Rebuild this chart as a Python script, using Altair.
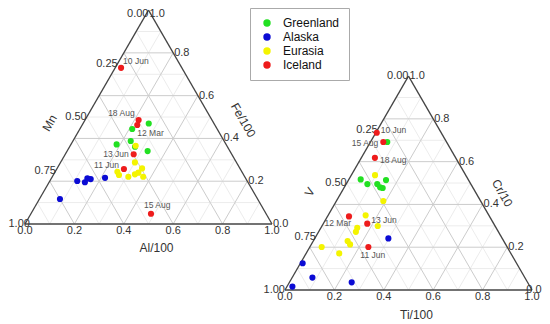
import altair as alt
import numpy as np
import pandas as pd

# ---------------- data ----------------
groups = ["Greenland", "Alaska", "Eurasia", "Iceland"]
colors = ["#22e022", "#0b0bd4", "#f4f400", "#ee1c1c"]

# Left ternary: Al/100 (bottom), Fe/100 (apex), Mn = remainder
left_group = (["Greenland"] * 6 + ["Alaska"] * 6 + ["Eurasia"] * 9 + ["Iceland"] * 6)
left_al = [0.266, 0.212, 0.234, 0.185, 0.326, 0.265,
           0.083, 0.111, 0.145, 0.146, 0.161, 0.216,
           0.265, 0.301, 0.344, 0.252, 0.266, 0.308, 0.329, 0.368, 0.339,
           0.024, 0.217, 0.223, 0.277, 0.272, 0.486]
left_fe = [0.470, 0.444, 0.388, 0.372, 0.341, 0.361,
           0.117, 0.201, 0.195, 0.213, 0.210, 0.216,
           0.366, 0.288, 0.260, 0.244, 0.229, 0.221, 0.232, 0.221, 0.240,
           0.730, 0.486, 0.463, 0.326, 0.257, 0.048]
left_mn = [round(1 - a - f, 3) for a, f in zip(left_al, left_fe)]

# Right ternary: Ti/100 (bottom), Cr/10 (apex), V = remainder
right_group = (["Greenland"] * 7 + ["Alaska"] * 5 + ["Eurasia"] * 10 + ["Iceland"] * 6)
right_ti = [0.068, 0.048, 0.086, 0.126, 0.145, 0.157, 0.152,
            0.298, 0.009, 0.082, 0.022, 0.252,
            0.096, 0.190, 0.152, 0.226, 0.147, 0.151, 0.139, 0.157, 0.048, 0.134,
            0.004, 0.052, 0.055, 0.087, 0.178, 0.237]
right_cr = [0.692, 0.517, 0.495, 0.495, 0.480, 0.477, 0.514,
            0.241, 0.125, 0.058, 0.016, 0.036,
            0.537, 0.416, 0.349, 0.299, 0.291, 0.272, 0.229, 0.213, 0.201, 0.171,
            0.735, 0.692, 0.618, 0.344, 0.310, 0.201]
right_v = [round(1 - t - c, 3) for t, c in zip(right_ti, right_cr)]

# date labels of the Iceland points (in the order of the Iceland rows)
left_dates = ["10 Jun", "18 Aug", "12 Mar", "13 Jun", "11 Jun", "15 Aug"]
right_dates = ["10 Jun", "15 Aug", "18 Aug", "12 Mar", "13 Jun", "11 Jun"]

tick_frac = [0.0, 0.2, 0.4, 0.6, 0.8, 1.0]
tick_quart = [0.0, 0.25, 0.5, 0.75, 1.0]

# ---------------- geometry ----------------
K = 247.0                 # pixels per unit side
S3 = np.sqrt(3) / 2
W, H = 534, 316
XMIN = -17 / K
XMAX = XMIN + W / K
YMAX = 216 / K
YMIN = YMAX - H / K
OFF = [(0.0, 0.0), (260 / K, -66 / K)]   # left / right triangle origins


def cart(a, b, o):
    return o[0] + a + b / 2, o[1] + b * S3


xs = alt.Scale(domain=[XMIN, XMAX], nice=False, zero=False)
ys = alt.Scale(domain=[YMIN, YMAX], nice=False, zero=False)
FONT = "Liberation Sans"

# grid lines
grid_rows = []
for o in OFF:
    for i in range(1, 10):
        c = i / 10
        major = (i % 2 == 0)
        segs = [((0, c), (1 - c, c)),        # apex component const (horizontal)
                ((c, 0), (c, 1 - c)),        # bottom component const
                ((1 - c, 0), (0, 1 - c))]    # left component const
        for p, q in segs:
            x1, y1 = cart(p[0], p[1], o)
            x2, y2 = cart(q[0], q[1], o)
            grid_rows.append(dict(x=x1, y=y1, x2=x2, y2=y2, major=major))
grid = pd.DataFrame(grid_rows)

edge_rows = []
for o in OFF:
    corners = [cart(0, 0, o), cart(1, 0, o), cart(0, 1, o)]
    for i in range(3):
        p, q = corners[i], corners[(i + 1) % 3]
        edge_rows.append(dict(x=p[0], y=p[1], x2=q[0], y2=q[1]))
edges = pd.DataFrame(edge_rows)

# points
pts = []
for g, a, f in zip(left_group, left_al, left_fe):
    x, y = cart(a, f, OFF[0])
    pts.append(dict(x=x, y=y, group=g))
for g, t, c in zip(right_group, right_ti, right_cr):
    x, y = cart(t, c, OFF[1])
    pts.append(dict(x=x, y=y, group=g))
points = pd.DataFrame(pts)
points["order"] = points["group"].map({g: i for i, g in enumerate(groups)})

# date annotations: (align, dx px, dy px)
left_lab_style = [("left", 2, -7), ("right", -4, -7), ("left", 0, 8),
                  ("right", -5, 0), ("right", -5, -4), ("left", -7, -9)]
right_lab_style = [("left", 4, -3), ("right", -5, 1), ("left", 5, 2),
                   ("right", 2, 7), ("left", 4, -4), ("left", -8, 8)]
ann = []
ice_l = [(a, f) for g, a, f in zip(left_group, left_al, left_fe) if g == "Iceland"]
ice_r = [(t, c) for g, t, c in zip(right_group, right_ti, right_cr) if g == "Iceland"]
for (a, f), txt, (al, dx, dy) in zip(ice_l, left_dates, left_lab_style):
    x, y = cart(a, f, OFF[0])
    ann.append(dict(x=x + dx / K, y=y - dy / K, text=txt, al=al))
for (a, f), txt, (al, dx, dy) in zip(ice_r, right_dates, right_lab_style):
    x, y = cart(a, f, OFF[1])
    ann.append(dict(x=x + dx / K, y=y - dy / K, text=txt, al=al))
ann = pd.DataFrame(ann)

# tick labels
tl = []
for k, o in enumerate(OFF):
    for v in tick_quart:      # left edge: remainder component, 0 at apex
        x, y = cart(0, 1 - v, o)
        al, base = "right", "middle"
        if k == 0 and v == 0.0:          # keep the apex label inside the page
            y, base = YMAX, "top"
        if k == 0 and v == 1.0:          # keep the corner label inside the page
            x, al = XMIN + 0.5 / K, "left"
        tl.append(dict(x=x, y=y, text=f"{v:.2f}", al=al, base=base))
    for v in tick_frac:       # right edge: apex component
        x, y = cart(1 - v, v, o)
        x, al, base = x + 1 / K, "left", "middle"
        if k == 0 and v == 1.0:
            y, base = YMAX, "top"
        if k == 1 and v == 0.0:          # keep the corner label inside the page
            x, al = XMAX - 0.5 / K, "right"
        tl.append(dict(x=x, y=y, text=f"{v:.1f}", al=al, base=base))
    for v in tick_frac:       # bottom edge
        x, y = cart(v, 0, o)
        tl.append(dict(x=x, y=y - 1 / K, text=f"{v:.1f}", al="center", base="top"))
tl = pd.DataFrame(tl)

# axis titles (edge midpoints + pixel offsets)
titles = []
names = [("Mn", "Fe/100", "Al/100"), ("V", "Cr/10", "Ti/100")]
toffs = [((-37, 6), (33, 3), (8, 24)), ((-37, 9), (32, 10), (8, 25))]
for o, nm, tof in zip(OFF, names, toffs):
    mids = [cart(0, 0.5, o), cart(0.5, 0.5, o), cart(0.5, 0, o)]
    angs = [300, 60, 0]
    for n, m, (dx, dy), ang in zip(nm, mids, tof, angs):
        titles.append(dict(x=m[0] + dx / K, y=m[1] - dy / K, text=n, angle=ang))
titles = pd.DataFrame(titles)

X = alt.X("x:Q", scale=xs, axis=None)
Y = alt.Y("y:Q", scale=ys, axis=None)

minor = alt.Chart(grid[~grid["major"]]).mark_rule(color="#ececec", strokeWidth=1).encode(
    x=X, y=Y, x2="x2:Q", y2="y2:Q")
majorg = alt.Chart(grid[grid["major"]]).mark_rule(color="#cccccc", strokeWidth=1).encode(
    x=X, y=Y, x2="x2:Q", y2="y2:Q")
edge = alt.Chart(edges).mark_rule(color="#444444", strokeWidth=1.3).encode(
    x=X, y=Y, x2="x2:Q", y2="y2:Q")

pt = alt.Chart(points).mark_circle(size=38, opacity=1).encode(
    x=X, y=Y,
    color=alt.Color("group:N", scale=alt.Scale(domain=groups, range=colors),
                    legend=alt.Legend(orient="none", legendX=242, legendY=0, title=None,
                                      padding=9, strokeColor="#aaaaaa", fillColor="white",
                                      labelFontSize=12, labelFont=FONT, labelColor="#111111",
                                      symbolSize=55, symbolType="circle", symbolStrokeWidth=0,
                                      rowPadding=2, labelOffset=10, symbolOffset=2)),
    order=alt.Order("order:Q"))

ann_layers = []
for al in ["left", "right"]:
    ann_layers.append(alt.Chart(ann[ann["al"] == al]).mark_text(
        align=al, baseline="middle", fontSize=8.5, font=FONT, color="#555555").encode(
        x=X, y=Y, text="text:N"))

tick_layers = []
for (al, base), sub in tl.groupby(["al", "base"]):
    tick_layers.append(alt.Chart(sub).mark_text(
        align=al, baseline=base, fontSize=11, font=FONT, color="#333333").encode(
        x=X, y=Y, text="text:N"))

title_layers = []
for ang, sub in titles.groupby("angle"):
    title_layers.append(alt.Chart(sub).mark_text(
        align="center", baseline="middle", fontSize=12, font=FONT, color="#333333",
        angle=int(ang)).encode(x=X, y=Y, text="text:N"))

chart = alt.layer(minor, majorg, edge, *tick_layers, *title_layers, *ann_layers, pt).properties(
    width=W, height=H, padding=0, autosize=alt.AutoSizeParams(type="none"),
    background="white"
).configure_view(stroke=None)

chart.save("out.html", embed_options={"renderer": "svg", "actions": False})
